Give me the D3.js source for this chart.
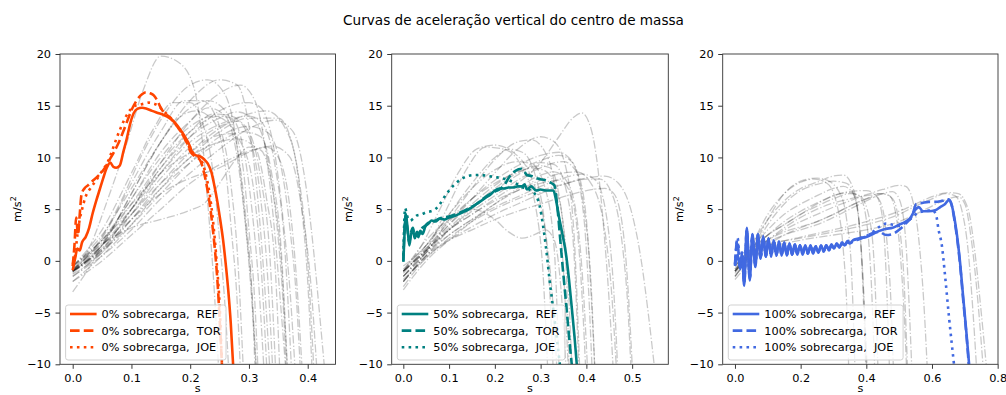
<!DOCTYPE html>
<html>
<head>
<meta charset="utf-8">
<script src="https://cdn.jsdelivr.net/npm/d3@7"></script>
<style>
  body { margin: 0; background: #fff; }
  svg { display: block; }
  text { font-family: "DejaVu Sans", sans-serif; fill: #000; }
</style>
</head>
<body>
<svg id="chart" width="1006" height="395"></svg>
<script>
// ---- Data ---------------------------------------------------------------
const titleText = "Curvas de aceleração vertical do centro de massa";
const loadLabels = ["0%", "50%", "100%"];
const methodLabels = ["REF", "TOR", "JOE"];
const yTicks = [-10, -5, 0, 5, 10, 15, 20];
const xTicks0 = [0, 0.1, 0.2, 0.3, 0.4];
const xTicks50 = [0, 0.1, 0.2, 0.3, 0.4, 0.5];
const xTicks100 = [0, 0.2, 0.4, 0.6, 0.8];

// individual trials, 0% load  [time s, acceleration m/s²]
const grey0 = [
  [[0,-1],[0.03,1.5],[0.06,6],[0.09,11],[0.12,16.5],[0.15,19.8],[0.18,19.2],[0.205,17],[0.22,12],[0.23,5.5],[0.24,-2],[0.248,-10]],
  [[0,-0.5],[0.04,1.5],[0.08,5.5],[0.12,10.5],[0.16,14.5],[0.2,17],[0.23,17.5],[0.26,16],[0.28,11],[0.295,3],[0.305,-4],[0.312,-10]],
  [[0,-1],[0.05,1.5],[0.1,6.5],[0.15,11.5],[0.2,15.5],[0.25,17.5],[0.28,17],[0.3,13],[0.315,6],[0.325,-1],[0.335,-10]],
  [[0,-0.8],[0.05,1.2],[0.1,5],[0.15,9.5],[0.2,13.5],[0.25,16.2],[0.285,17],[0.31,15.5],[0.33,10],[0.345,2],[0.355,-5],[0.362,-10]],
  [[0,-1],[0.05,0.8],[0.1,4],[0.15,7.5],[0.2,10.5],[0.25,12.8],[0.3,14.2],[0.33,14.5],[0.36,13],[0.385,8],[0.4,0],[0.41,-10]],
  [[0,-1.5],[0.05,0.5],[0.1,3],[0.15,6],[0.2,8.5],[0.25,10.8],[0.3,12.8],[0.345,13.6],[0.375,12.5],[0.395,8],[0.41,1],[0.42,-5],[0.428,-10]],
  [[0,-2],[0.05,0],[0.1,2.5],[0.15,5],[0.2,7.5],[0.25,9.3],[0.3,10.6],[0.34,11.1],[0.37,10],[0.39,5],[0.405,-2],[0.415,-10]],
  [[0,-1],[0.03,0.7],[0.06,2],[0.1,3.2],[0.15,4],[0.2,4.9],[0.225,5.6],[0.25,7.5],[0.28,10],[0.3,11],[0.32,10.7],[0.34,7],[0.355,0],[0.365,-10]],
  [[0,-3],[0.03,-0.5],[0.06,2.5],[0.1,6],[0.15,10],[0.2,13],[0.24,14],[0.27,13],[0.29,9],[0.3,3],[0.31,-4],[0.315,-10]],
  [[0,-0.5],[0.05,2.5],[0.1,7],[0.15,11.5],[0.18,13.8],[0.21,14.5],[0.24,13.5],[0.26,9],[0.27,3],[0.28,-4],[0.285,-10]],
  [[0,-1],[0.05,2],[0.1,6],[0.15,10.5],[0.2,13.5],[0.23,14.8],[0.26,14],[0.28,10],[0.295,3],[0.305,-3],[0.312,-10]],
  [[0,-0.8],[0.05,1.8],[0.1,5.5],[0.15,9.5],[0.2,12.5],[0.25,14],[0.27,13.8],[0.29,11],[0.305,5],[0.315,-1],[0.325,-10]],
  [[0,-1.2],[0.05,1.5],[0.1,4.5],[0.15,8],[0.2,11],[0.25,13],[0.28,13.5],[0.3,12.5],[0.32,8],[0.335,1],[0.345,-10]],
  [[0,-0.5],[0.05,2],[0.1,5.5],[0.15,8.5],[0.2,10.5],[0.24,12],[0.27,12.3],[0.29,11],[0.31,6],[0.32,0],[0.33,-10]],
  [[0,-1],[0.05,1],[0.1,4],[0.15,7],[0.2,9.5],[0.25,11.5],[0.29,12.5],[0.32,12],[0.34,8],[0.355,1],[0.365,-10]],
  [[0,-1.5],[0.05,1],[0.1,5],[0.15,9],[0.2,12.5],[0.24,14.2],[0.27,14],[0.3,12],[0.32,6],[0.33,0],[0.34,-10]],
  [[0,-0.7],[0.05,2.2],[0.1,7.5],[0.15,12.5],[0.19,15.5],[0.22,15.5],[0.25,13],[0.27,7],[0.28,1],[0.29,-10]],
  [[0,-1],[0.05,1.5],[0.1,6.5],[0.15,11.5],[0.2,14.8],[0.23,15.5],[0.26,14.5],[0.28,11],[0.295,4],[0.305,-3],[0.31,-10]],
  [[0,-0.5],[0.05,2],[0.1,5],[0.15,8.5],[0.2,11.5],[0.25,13.2],[0.3,14],[0.32,13.5],[0.345,9],[0.36,2],[0.372,-10]],
  [[0,-1],[0.05,1],[0.1,3.5],[0.15,6.5],[0.2,9.5],[0.25,12],[0.3,13],[0.33,12.5],[0.355,9],[0.37,3],[0.38,-3],[0.387,-10]],
  [[0,-2],[0.05,0.5],[0.1,3.5],[0.15,7],[0.2,10],[0.25,11.5],[0.28,11.8],[0.31,11],[0.33,6],[0.345,-1],[0.352,-10]],
  [[0,-0.5],[0.05,3],[0.1,8.5],[0.14,13],[0.17,15.3],[0.2,15.3],[0.22,13.5],[0.24,8],[0.25,2],[0.26,-5],[0.265,-10]],
  [[0,-1],[0.05,1.5],[0.1,5],[0.15,9],[0.2,12],[0.25,13.8],[0.28,14.4],[0.31,13.5],[0.335,9],[0.35,2],[0.358,-4],[0.363,-10]],
  [[0,-1.3],[0.05,0.8],[0.1,4.5],[0.15,8.5],[0.2,12],[0.25,14.5],[0.3,15.3],[0.32,14.8],[0.345,10],[0.36,3],[0.37,-3],[0.378,-10]],
  [[0,-0.8],[0.05,1.5],[0.1,4.5],[0.15,7.5],[0.2,10],[0.25,12.5],[0.3,13.8],[0.35,13.8],[0.375,11],[0.39,5],[0.4,-2],[0.407,-10]],
  [[0,-1],[0.05,1.2],[0.1,4],[0.15,6.5],[0.2,8],[0.25,9],[0.3,10.5],[0.33,11],[0.35,10],[0.37,5],[0.38,-1],[0.39,-10]]
];

// individual trials, 50% load
const grey50 = [
  [[0,-1.5],[0.05,1],[0.1,3],[0.15,4.5],[0.2,6],[0.25,7.5],[0.3,9.5],[0.34,12],[0.37,13.8],[0.39,14.3],[0.41,12.8],[0.425,9],[0.44,2],[0.45,-4],[0.458,-10]],
  [[0,-1],[0.04,1.5],[0.08,5],[0.12,8.5],[0.16,10.8],[0.2,11.2],[0.24,10.5],[0.28,8],[0.31,3],[0.325,-3],[0.335,-10]],
  [[0,-2],[0.05,1],[0.1,5.5],[0.14,9],[0.18,11],[0.22,10.8],[0.26,9],[0.29,5],[0.305,-1],[0.315,-10]],
  [[0,-1],[0.05,1],[0.1,3.5],[0.15,6],[0.2,8.5],[0.25,10.8],[0.3,12],[0.33,11.5],[0.36,8],[0.375,1],[0.385,-10]],
  [[0,-1.5],[0.05,0.8],[0.1,4],[0.15,7],[0.2,9.8],[0.25,11.5],[0.28,11.7],[0.31,10.5],[0.335,6],[0.35,-1],[0.36,-10]],
  [[0,-1],[0.05,2],[0.1,4],[0.15,5],[0.2,4],[0.23,2.8],[0.26,2.2],[0.29,2.6],[0.31,3],[0.33,2],[0.345,-3],[0.355,-10]],
  [[0,-2],[0.05,0.5],[0.1,3],[0.15,5],[0.2,6.8],[0.25,8.3],[0.3,9.5],[0.33,9.3],[0.36,6],[0.375,-1],[0.383,-10]],
  [[0,-1],[0.05,1],[0.1,3],[0.15,4.8],[0.2,6.3],[0.25,7.8],[0.3,9],[0.35,9.6],[0.38,8.5],[0.4,4],[0.41,-3],[0.418,-10]],
  [[0,-2.5],[0.05,0.3],[0.1,2],[0.15,3.3],[0.2,4.5],[0.25,5.5],[0.3,6.5],[0.35,7.4],[0.4,8],[0.44,8.2],[0.47,7.5],[0.5,4.5],[0.52,0],[0.535,-5],[0.548,-10]],
  [[0,-2],[0.05,0.5],[0.1,2],[0.15,3],[0.2,4],[0.25,4.8],[0.3,5.5],[0.35,6.2],[0.4,6.8],[0.44,7],[0.46,6.5],[0.48,3],[0.49,-2],[0.5,-10]],
  [[0,-1.5],[0.05,0.8],[0.1,2.5],[0.15,4],[0.2,5.5],[0.25,6.8],[0.3,7.8],[0.35,8.5],[0.38,8.6],[0.41,7.5],[0.44,3],[0.455,-3],[0.465,-10]],
  [[0,-1],[0.05,1.2],[0.1,3.5],[0.15,5.5],[0.2,7.3],[0.25,8.7],[0.3,9.7],[0.34,10.2],[0.37,9.5],[0.395,5],[0.41,-2],[0.418,-10]],
  [[0,-1.2],[0.05,1.5],[0.1,4.5],[0.15,7],[0.2,8.8],[0.25,9.6],[0.28,9.4],[0.31,7],[0.33,1],[0.34,-10]],
  [[0,-0.8],[0.05,1.5],[0.1,4],[0.15,6],[0.2,7.5],[0.25,8.6],[0.3,9.2],[0.32,9],[0.345,5],[0.36,-2],[0.368,-10]],
  [[0,-2],[0.05,0.5],[0.1,2.5],[0.15,4],[0.2,5.2],[0.25,6.2],[0.3,7.2],[0.35,8],[0.39,8.4],[0.42,7.8],[0.445,4],[0.46,-3],[0.468,-10]],
  [[0,-1],[0.05,1],[0.1,3.2],[0.15,5.2],[0.2,7],[0.25,8.5],[0.28,9],[0.31,8.7],[0.34,6],[0.355,0],[0.362,-10]],
  [[0,-1.5],[0.05,0.8],[0.1,3],[0.15,4.5],[0.2,5.8],[0.25,6.8],[0.3,7.5],[0.34,7.8],[0.36,7],[0.38,3],[0.39,-3],[0.398,-10]],
  [[0,-0.5],[0.05,1.5],[0.1,4.5],[0.15,7.5],[0.2,10],[0.23,10.8],[0.26,10.5],[0.29,8],[0.31,3],[0.32,-3],[0.327,-10]],
  [[0,-1.8],[0.05,0.3],[0.1,2.2],[0.15,3.8],[0.2,5],[0.25,6],[0.3,6.8],[0.35,7.4],[0.4,7.9],[0.43,7.9],[0.46,6],[0.48,1],[0.49,-4],[0.497,-10]],
  [[0,-2.8],[0.05,0],[0.1,2],[0.15,3.8],[0.2,5.5],[0.25,7],[0.3,8.3],[0.33,8.6],[0.36,7.5],[0.385,2],[0.395,-4],[0.402,-10]],
  [[0,-1],[0.05,1.2],[0.1,3.8],[0.15,6],[0.2,7.8],[0.25,9.2],[0.3,10.2],[0.34,10.5],[0.37,9.5],[0.395,4],[0.405,-3],[0.412,-10]]
];

// individual trials, 100% load
const grey100 = [
  [[0,-1],[0.05,1],[0.1,4],[0.15,6.5],[0.2,7.7],[0.25,8],[0.28,7.8],[0.32,6.5],[0.34,4],[0.355,-1],[0.365,-10]],
  [[0,-0.5],[0.05,1.5],[0.1,4],[0.15,5.8],[0.2,7],[0.25,7.6],[0.3,8.2],[0.33,8.3],[0.36,7],[0.38,3],[0.39,-3],[0.398,-10]],
  [[0,-1.5],[0.05,0.8],[0.1,3.5],[0.15,5.5],[0.2,6.8],[0.25,7.4],[0.3,7.7],[0.34,7.5],[0.37,5.5],[0.385,1],[0.395,-5],[0.402,-10]],
  [[0,-1],[0.05,1.2],[0.1,3],[0.15,4.5],[0.2,5.5],[0.25,6.3],[0.3,7],[0.33,7.2],[0.36,6.5],[0.38,3],[0.39,-2],[0.4,-10]],
  [[0,-0.8],[0.05,1],[0.1,2.5],[0.15,3.5],[0.2,4.5],[0.25,5.3],[0.3,6],[0.35,6.5],[0.38,6.3],[0.41,4],[0.425,-1],[0.435,-10]],
  [[0,-1.2],[0.05,0.8],[0.1,2],[0.15,2.8],[0.2,3.3],[0.25,3.8],[0.3,4.5],[0.35,5.3],[0.4,6],[0.43,6.2],[0.45,5],[0.465,1],[0.475,-4],[0.482,-10]],
  [[0,-0.5],[0.05,1.2],[0.1,2.5],[0.15,3.5],[0.2,4.5],[0.25,5.5],[0.3,6.3],[0.35,6.7],[0.4,6.8],[0.43,6.3],[0.45,4],[0.46,-1],[0.47,-10]],
  [[0,-1.5],[0.05,0.5],[0.1,1.8],[0.15,2.5],[0.2,3],[0.25,3.5],[0.3,4.2],[0.35,5],[0.4,5.8],[0.45,6.5],[0.48,6.7],[0.5,6],[0.52,2],[0.53,-4],[0.538,-10]],
  [[0,-1],[0.05,0.8],[0.1,2],[0.15,3],[0.2,3.8],[0.25,4.5],[0.3,5.2],[0.35,5.8],[0.4,6.4],[0.45,6.9],[0.5,7.3],[0.52,7.2],[0.54,6],[0.56,2],[0.575,-4],[0.585,-10]],
  [[0,-1],[0.05,0.5],[0.1,1.5],[0.2,2.2],[0.3,2.8],[0.4,3.5],[0.5,4.5],[0.55,5.3],[0.6,6],[0.64,6.5],[0.67,6.3],[0.69,5],[0.71,1],[0.725,-5],[0.735,-10]],
  [[0,-1.5],[0.05,0.3],[0.1,1.2],[0.2,2],[0.3,2.5],[0.4,3],[0.5,3.8],[0.55,4.5],[0.6,5.3],[0.65,6],[0.68,6.2],[0.7,5.5],[0.72,2],[0.74,-4],[0.755,-10]],
  [[0,-0.8],[0.05,0.8],[0.1,1.5],[0.2,2.3],[0.3,3],[0.4,3.8],[0.5,4.8],[0.55,5.5],[0.6,6.2],[0.65,6.6],[0.68,6.5],[0.71,5],[0.73,1],[0.75,-5],[0.765,-10]],
  [[0,-1],[0.05,1.5],[0.1,4.5],[0.15,6.5],[0.2,7.6],[0.24,7.9],[0.28,7.5],[0.31,5.5],[0.33,1],[0.34,-4],[0.346,-10]],
  [[0,-0.5],[0.05,1],[0.1,2.5],[0.15,3.8],[0.2,4.8],[0.25,5.6],[0.3,6.3],[0.35,6.6],[0.38,6.2],[0.4,4],[0.415,-2],[0.425,-10]],
  [[0,-1.8],[0.05,0],[0.1,1.5],[0.15,2.5],[0.2,3.2],[0.25,3.8],[0.3,4.5],[0.35,5.3],[0.4,6],[0.44,6.5],[0.47,6.3],[0.49,4.5],[0.505,0],[0.515,-5],[0.522,-10]],
  [[0,-1],[0.05,0.6],[0.1,2],[0.15,3.2],[0.2,4.2],[0.25,5],[0.3,5.6],[0.35,6],[0.4,6.3],[0.45,6.5],[0.48,6],[0.5,3.5],[0.515,-2],[0.525,-10]]
];

// method curves, 0% load
const ref0 = [[0,-0.9],[0.004,0.2],[0.008,1.2],[0.012,1.0],[0.016,1.8],[0.022,2.3],[0.028,3.2],[0.034,4.6],[0.04,5.8],[0.046,6.9],[0.052,8.0],[0.058,9.0],[0.064,9.5],[0.069,9.1],[0.074,9.0],[0.08,9.2],[0.086,10.5],[0.092,11.8],[0.098,13.3],[0.104,14.3],[0.11,14.7],[0.118,14.8],[0.126,14.7],[0.135,14.5],[0.145,14.3],[0.155,14.1],[0.165,13.8],[0.175,13.3],[0.183,12.7],[0.19,12.1],[0.196,11.5],[0.2,11.0],[0.204,10.4],[0.21,10.2],[0.217,10.1],[0.224,9.8],[0.23,9.4],[0.236,8.6],[0.241,7.3],[0.246,5.8],[0.251,4.0],[0.256,2.0],[0.261,-0.6],[0.265,-3.0],[0.269,-6.0],[0.273,-10]];
const tor0 = [[0,-0.5],[0.003,1.5],[0.006,4.2],[0.009,2.5],[0.012,4.5],[0.015,6.4],[0.02,7.0],[0.026,7.3],[0.035,7.8],[0.045,8.3],[0.055,9.0],[0.063,9.8],[0.07,10.5],[0.078,11.4],[0.086,12.5],[0.094,13.7],[0.102,14.8],[0.11,15.6],[0.118,16.1],[0.125,16.3],[0.132,16.2],[0.138,16.0],[0.144,15.5],[0.15,14.8],[0.156,14.3],[0.165,13.9],[0.175,13.2],[0.183,12.6],[0.19,11.9],[0.196,11.2],[0.2,10.6],[0.206,10.2],[0.212,10.0],[0.218,9.6],[0.224,8.4],[0.229,7.0],[0.234,5.2],[0.239,2.8],[0.243,0.5],[0.247,-2.5],[0.25,-5.5],[0.254,-10]];
const joe0 = [[0,-0.3],[0.004,0.5],[0.008,2.5],[0.012,4.0],[0.016,5.0],[0.022,6.2],[0.03,7.0],[0.04,7.8],[0.05,8.7],[0.06,9.6],[0.068,10.8],[0.075,11.9],[0.082,12.9],[0.09,13.9],[0.098,14.6],[0.106,15.0],[0.114,15.1],[0.122,15.2],[0.13,15.3],[0.138,15.2],[0.146,15.0],[0.154,14.5],[0.162,14.1],[0.17,13.6],[0.178,13.0],[0.186,12.3],[0.194,11.5],[0.2,10.8],[0.208,10.3],[0.215,10.0],[0.222,9.3],[0.228,8.0],[0.233,6.5],[0.238,4.3],[0.242,2.0],[0.246,-0.8],[0.25,-4.2],[0.254,-10]];

// method curves, 50% load
const ref50 = [[0,-0.1],[0.003,3],[0.005,4.6],[0.009,3.3],[0.013,1.5],[0.017,2.6],[0.021,3.0],[0.025,2.2],[0.029,2.6],[0.033,2.3],[0.037,2.9],[0.042,2.6],[0.048,3.3],[0.055,3.6],[0.062,3.9],[0.07,3.8],[0.08,4.1],[0.09,4.0],[0.1,4.2],[0.11,4.3],[0.12,4.5],[0.13,4.7],[0.14,4.9],[0.15,5.2],[0.16,5.5],[0.17,5.8],[0.18,6.1],[0.19,6.4],[0.2,6.8],[0.21,7.0],[0.22,7.0],[0.23,7.1],[0.24,7.1],[0.25,7.2],[0.26,7.2],[0.265,7.4],[0.27,6.9],[0.28,7.2],[0.29,6.8],[0.3,6.9],[0.31,6.8],[0.32,6.8],[0.328,6.8],[0.334,5.8],[0.34,4.3],[0.348,2.5],[0.355,0.8],[0.362,-1.8],[0.368,-4.5],[0.374,-7.3],[0.379,-10]];
const tor50 = [[0,0],[0.003,3.5],[0.005,4.4],[0.009,3.0],[0.013,1.8],[0.017,2.8],[0.021,3.2],[0.025,2.4],[0.03,2.8],[0.035,2.6],[0.04,3.1],[0.048,3.4],[0.055,3.7],[0.065,3.8],[0.08,4.1],[0.1,4.3],[0.12,4.6],[0.14,5.0],[0.16,5.5],[0.18,6.2],[0.2,6.7],[0.21,6.9],[0.22,7.3],[0.233,8.2],[0.245,8.7],[0.258,8.9],[0.265,8.6],[0.27,8.3],[0.28,8.2],[0.29,8.0],[0.3,7.9],[0.31,7.8],[0.32,7.6],[0.33,7.3],[0.336,5.5],[0.342,2.5],[0.348,-0.5],[0.355,-3.8],[0.362,-7.2],[0.368,-10]];
const joe50 = [[0,0.5],[0.004,5.1],[0.008,4.4],[0.015,3.9],[0.022,4.1],[0.03,4.4],[0.04,4.5],[0.05,4.7],[0.06,4.8],[0.07,5.0],[0.08,5.5],[0.09,6.2],[0.1,6.8],[0.11,7.3],[0.12,7.7],[0.13,8.0],[0.14,8.2],[0.155,8.3],[0.17,8.3],[0.185,8.2],[0.2,8.1],[0.215,8.0],[0.23,7.8],[0.245,7.5],[0.26,7.1],[0.275,6.9],[0.29,6.3],[0.298,5.3],[0.305,3.5],[0.312,1.2],[0.32,-2.0],[0.328,-4.8],[0.335,-7.3],[0.342,-10]];

// method curves, 100% load
const ref100 = [[0,-0.5],[0.008,0.6],[0.016,-0.8],[0.022,0.5],[0.028,-2.4],[0.036,3.2],[0.045,-1.9],[0.053,2.6],[0.062,-0.6],[0.07,2.6],[0.078,0.2],[0.086,2.4],[0.094,0.4],[0.102,2.2],[0.11,0.4],[0.118,2.0],[0.126,0.5],[0.134,1.9],[0.142,0.5],[0.15,1.8],[0.158,0.5],[0.166,1.7],[0.174,0.6],[0.182,1.6],[0.19,0.6],[0.198,1.5],[0.206,0.6],[0.214,1.5],[0.222,0.7],[0.23,1.5],[0.238,0.7],[0.246,1.4],[0.254,0.8],[0.262,1.5],[0.27,0.9],[0.278,1.5],[0.286,1.0],[0.294,1.6],[0.302,1.2],[0.31,1.7],[0.318,1.3],[0.326,1.8],[0.334,1.5],[0.342,1.9],[0.35,1.7],[0.36,2.0],[0.38,2.2],[0.4,2.3],[0.42,2.6],[0.44,2.9],[0.46,3.1],[0.48,3.2],[0.5,3.5],[0.52,3.8],[0.535,4.2],[0.548,4.9],[0.56,5.2],[0.572,4.8],[0.59,4.8],[0.61,4.9],[0.625,5.2],[0.64,5.5],[0.652,5.9],[0.66,5.4],[0.668,4.2],[0.676,2.5],[0.685,0],[0.695,-3.5],[0.705,-7],[0.713,-10]];
const tor100 = [[0,-0.3],[0.007,2.0],[0.015,-0.5],[0.022,0.8],[0.028,-2.2],[0.036,3.0],[0.045,-1.7],[0.053,2.4],[0.062,-0.4],[0.07,2.5],[0.078,0.3],[0.086,2.3],[0.094,0.4],[0.102,2.1],[0.11,0.5],[0.118,1.9],[0.126,0.5],[0.134,1.8],[0.142,0.6],[0.15,1.7],[0.158,0.6],[0.166,1.6],[0.174,0.6],[0.182,1.6],[0.19,0.7],[0.198,1.5],[0.206,0.7],[0.214,1.4],[0.222,0.7],[0.23,1.4],[0.238,0.8],[0.246,1.4],[0.254,0.8],[0.262,1.4],[0.27,0.9],[0.278,1.5],[0.286,1.0],[0.294,1.5],[0.302,1.2],[0.31,1.6],[0.318,1.3],[0.326,1.7],[0.334,1.5],[0.342,1.8],[0.35,1.7],[0.36,1.9],[0.38,2.1],[0.4,2.4],[0.42,2.7],[0.44,2.8],[0.46,2.5],[0.48,2.6],[0.5,3.0],[0.52,3.6],[0.54,4.4],[0.552,5.5],[0.57,5.6],[0.59,5.7],[0.61,5.7],[0.63,5.8],[0.65,5.95],[0.66,5.4],[0.668,4.0],[0.676,2.3],[0.685,-0.2],[0.695,-3.8],[0.705,-7.2],[0.712,-10]];
const joe100 = [[0,-0.4],[0.008,2.2],[0.016,-0.6],[0.022,0.9],[0.028,-2.0],[0.036,2.9],[0.045,-1.6],[0.053,2.5],[0.062,-0.3],[0.07,2.4],[0.078,0.3],[0.086,2.2],[0.094,0.5],[0.102,2.0],[0.11,0.5],[0.118,1.9],[0.126,0.6],[0.134,1.8],[0.142,0.6],[0.15,1.7],[0.158,0.6],[0.166,1.6],[0.174,0.7],[0.182,1.5],[0.19,0.7],[0.198,1.5],[0.206,0.8],[0.214,1.4],[0.222,0.8],[0.23,1.4],[0.238,0.9],[0.246,1.4],[0.254,0.9],[0.262,1.4],[0.27,1.0],[0.278,1.5],[0.286,1.1],[0.294,1.5],[0.302,1.3],[0.31,1.6],[0.32,1.5],[0.34,1.9],[0.36,2.0],[0.38,2.2],[0.4,2.4],[0.42,2.8],[0.44,3.3],[0.46,3.6],[0.48,3.5],[0.5,3.4],[0.52,3.7],[0.54,4.2],[0.56,4.7],[0.58,4.8],[0.6,4.9],[0.612,4.5],[0.62,3.0],[0.63,1.5],[0.64,-1.5],[0.652,-5.5],[0.667,-10]];

// ---- Layout -------------------------------------------------------------
const W = 1006, H = 395;
const plotTop = 54, plotBottom = 364.3;
const fontSize = 11.3;
const panels = [
  { left: 60,    right: 335.5, xDomain: [-0.0216, 0.4473], xTicks: xTicks0,   grey: grey0,   curves: [ref0, tor0, joe0],       color: "#FF4500", load: loadLabels[0] },
  { left: 391.7, right: 668.3, xDomain: [-0.0254, 0.579],  xTicks: xTicks50,  grey: grey50,  curves: [ref50, tor50, joe50],    color: "#008080", load: loadLabels[1] },
  { left: 722.7, right: 998,   xDomain: [-0.0374, 0.801],  xTicks: xTicks100, grey: grey100, curves: [ref100, tor100, joe100], color: "#4169E1", load: loadLabels[2] }
];
const lineW = 2.6;
const dashes = [null, `${3.7 * lineW},${1.6 * lineW}`, `${lineW},${1.65 * lineW}`];

const svg = d3.select("#chart");
svg.append("rect").attr("width", W).attr("height", H).attr("fill", "#fff");

svg.append("text")
  .attr("x", 513.5).attr("y", 24.5)
  .attr("text-anchor", "middle")
  .attr("font-size", 13.6)
  .text(titleText);

const y = d3.scaleLinear().domain([-10, 20]).range([plotBottom, plotTop]);

panels.forEach((p, i) => {
  const x = d3.scaleLinear().domain(p.xDomain).range([p.left, p.right]);
  const g = svg.append("g");

  const clipId = "clip" + i;
  svg.append("defs").append("clipPath").attr("id", clipId)
    .append("rect")
    .attr("x", p.left).attr("y", plotTop)
    .attr("width", p.right - p.left).attr("height", plotBottom - plotTop);

  const line = d3.line()
    .x(d => x(d[0])).y(d => y(d[1]))
    .curve(d3.curveMonotoneX);

  const plot = g.append("g").attr("clip-path", `url(#${clipId})`);

  // individual trials
  plot.selectAll("path.trial").data(p.grey).join("path")
    .attr("class", "trial")
    .attr("d", line)
    .attr("fill", "none")
    .attr("stroke", "#000")
    .attr("stroke-opacity", 0.21)
    .attr("stroke-width", 1.3)
    .attr("stroke-dasharray", "8.3,2.1,1.3,2.1");

  // REF / TOR / JOE
  p.curves.forEach((c, k) => {
    plot.append("path")
      .datum(c)
      .attr("d", line)
      .attr("fill", "none")
      .attr("stroke", p.color)
      .attr("stroke-width", lineW)
      .attr("stroke-linejoin", "round")
      .attr("stroke-dasharray", dashes[k]);
  });

  // axes
  const xAxis = d3.axisBottom(x).tickValues(p.xTicks)
    .tickFormat(d3.format(".1f")).tickSizeOuter(0).tickSize(4.5).tickPadding(5);
  const yAxis = d3.axisLeft(y).tickValues(yTicks)
    .tickFormat(d3.format("d")).tickSizeOuter(0).tickSize(4.5).tickPadding(4.5);

  const gx = g.append("g").attr("transform", `translate(0,${plotBottom})`).call(xAxis);
  const gy = g.append("g").attr("transform", `translate(${p.left},0)`).call(yAxis);
  [gx, gy].forEach(a => {
    a.select(".domain").remove();
    a.selectAll("line").attr("stroke", "#222").attr("stroke-width", 0.9);
    a.selectAll("text").attr("font-size", fontSize).attr("fill", "#111")
      .attr("font-family", "DejaVu Sans, sans-serif");
  });

  // frame
  g.append("rect")
    .attr("x", p.left).attr("y", plotTop)
    .attr("width", p.right - p.left).attr("height", plotBottom - plotTop)
    .attr("fill", "none").attr("stroke", "#333").attr("stroke-width", 0.9);

  // axis labels
  const yl = g.append("text")
    .attr("transform", `translate(${p.left - 39.5},${(plotTop + plotBottom) / 2}) rotate(-90)`)
    .attr("text-anchor", "middle")
    .attr("font-size", fontSize);
  yl.append("tspan").text("m/s");
  yl.append("tspan").attr("font-size", fontSize * 0.7).attr("dy", -4.6).text("2");

  g.append("text")
    .attr("x", (p.left + p.right) / 2).attr("y", 391.5)
    .attr("text-anchor", "middle")
    .attr("font-size", fontSize)
    .text("s");

  // legend
  const lg = g.append("g");
  const boxX = p.left + 5.6, boxTop = 305, boxBottom = 360;
  const box = lg.append("rect")
    .attr("x", boxX).attr("y", boxTop).attr("height", boxBottom - boxTop)
    .attr("rx", 2.5)
    .attr("fill", "#fff").attr("fill-opacity", 0.8)
    .attr("stroke", "#cccccc").attr("stroke-width", 0.9);
  let maxRight = 0;
  methodLabels.forEach((m, k) => {
    const cy = 314 + k * 16.65;
    lg.append("line")
      .attr("x1", boxX + 4.4).attr("x2", boxX + 31)
      .attr("y1", cy).attr("y2", cy)
      .attr("stroke", p.color).attr("stroke-width", lineW)
      .attr("stroke-dasharray", dashes[k]);
    const t = lg.append("text")
      .attr("x", boxX + 36).attr("y", cy).attr("dy", "0.36em")
      .attr("font-size", fontSize)
      .attr("xml:space", "preserve")
      .style("white-space", "pre")
      .text(`${p.load} sobrecarga,  ${m}`);
    maxRight = Math.max(maxRight, boxX + 36 + t.node().getComputedTextLength());
  });
  box.attr("width", maxRight + 5.5 - boxX);
});
</script>
</body>
</html>
